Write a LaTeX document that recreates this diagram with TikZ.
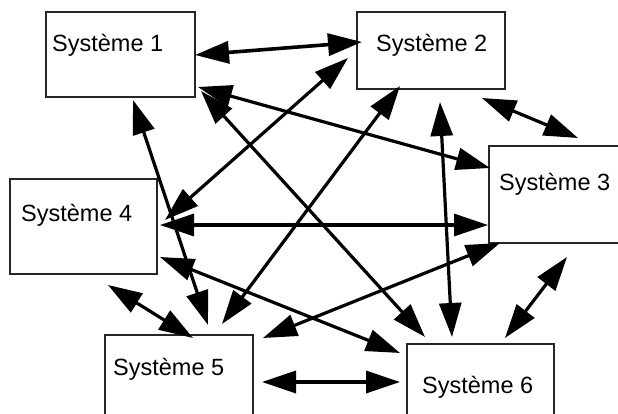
\documentclass[tikz,border=0pt]{standalone}
\usepackage{fontspec}
\setmainfont{Liberation Sans}
\usetikzlibrary{arrows.meta}

\begin{document}
\begin{tikzpicture}[x=1pt,y=-1pt,
  sysbox/.style={draw=black!85,line width=1.2pt},
  syslabel/.style={anchor=base west,inner sep=0pt,font=\fontsize{23.5}{28}\selectfont},
  link/.style={line width=3.2pt,
    {Triangle[length=34pt,width=22pt]}-{Triangle[length=34pt,width=22pt]}}]
  \useasboundingbox (0,0) rectangle (618,414);
  \clip (0,0) rectangle (618,414);

  % the six systems
  \draw[sysbox] (46,12) rectangle (195,97);
  \draw[sysbox] (357,12) rectangle (505,89);
  \draw[sysbox] (489,146) rectangle (640,243);
  \draw[sysbox] (10,179) rectangle (157,274);
  \draw[sysbox] (105,335) rectangle (253,440);
  \draw[sysbox] (407,344) rectangle (554,440);

  \node[syslabel] (t1) at (52,52) {Système 1};
  \node[syslabel] (t2) at (376,52) {Système 2};
  \node[syslabel] (t3) at (499,190) {Système 3};
  \node[syslabel] (t4) at (21,222) {Système 4};
  \node[syslabel] (t5) at (113,375) {Système 5};
  \node[syslabel] (t6) at (422,393) {Système 6};

  % end points of the links
  \coordinate (p12a) at (195,55);  \coordinate (p12b) at (362,42);
  \coordinate (p13a) at (198,87);  \coordinate (p13b) at (490,168);
  \coordinate (p16a) at (201,91);  \coordinate (p16b) at (425,337);
  \coordinate (p15a) at (133,100); \coordinate (p15b) at (208,325);
  \coordinate (p24a) at (348,58);  \coordinate (p24b) at (165,220);
  \coordinate (p25a) at (400,86);  \coordinate (p25b) at (222,324);
  \coordinate (p26a) at (440,102); \coordinate (p26b) at (452,337);
  \coordinate (p23a) at (482,98);  \coordinate (p23b) at (578,138);
  \coordinate (p34a) at (488,225); \coordinate (p34b) at (160,225);
  \coordinate (p35a) at (500,243); \coordinate (p35b) at (263,338);
  \coordinate (p36a) at (567,257); \coordinate (p36b) at (505,338);
  \coordinate (p45a) at (108,285); \coordinate (p45b) at (193,338);
  \coordinate (p46a) at (160,257); \coordinate (p46b) at (400,353);
  \coordinate (p56a) at (262,382); \coordinate (p56b) at (400,382);

  % two-way links
  \draw[link,line width=3.6pt] (p12a) -- (p12b);
  \draw[link] (p13a) -- (p13b);
  \draw[link] (p16a) -- (p16b);
  \draw[link] (p15a) -- (p15b);
  \draw[link] (p24a) -- (p24b);
  \draw[link] (p25a) -- (p25b);
  \draw[link] (p26a) -- (p26b);
  \draw[link] (p23a) -- (p23b);
  \draw[link] (p34a) -- (p34b);
  \draw[link] (p35a) -- (p35b);
  \draw[link] (p36a) -- (p36b);
  \draw[link] (p45a) -- (p45b);
  \draw[link] (p46a) -- (p46b);
  \draw[link,line width=3.6pt] (p56a) -- (p56b);
\end{tikzpicture}
\end{document}
